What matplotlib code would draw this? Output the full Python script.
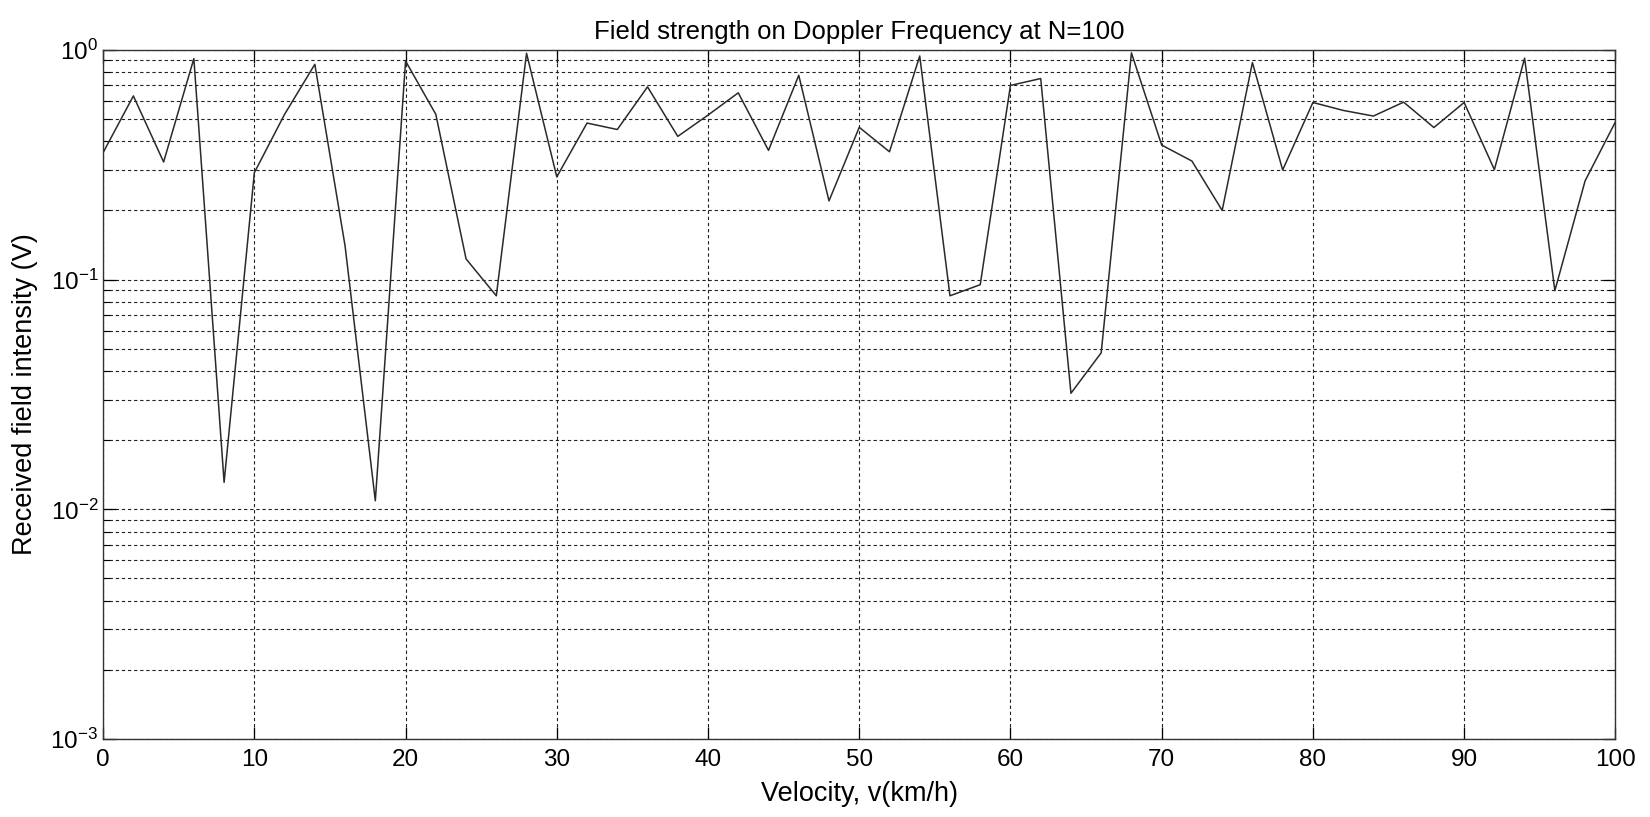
import numpy as np
import matplotlib
matplotlib.use('Agg')
import matplotlib.pyplot as plt
from matplotlib import font_manager
from matplotlib.ticker import LogLocator, NullFormatter

# velocity samples (km/h) and received field intensity (V)
velocity = [0, 2, 4, 6, 8, 10, 12, 14, 16, 18, 20, 22, 24, 26, 28, 30, 32, 34, 36, 38,
            40, 42, 44, 46, 48, 50, 52, 54, 56, 58, 60, 62, 64, 66, 68, 70, 72, 74, 76, 78,
            80, 82, 84, 86, 88, 90, 92, 94, 96, 98, 100]
intensity = [0.357, 0.63, 0.325, 0.916, 0.0131, 0.292, 0.524, 0.865, 0.14, 0.0109,
             0.894, 0.524, 0.123, 0.085, 0.966, 0.28, 0.48, 0.45, 0.69, 0.42,
             0.52, 0.65, 0.365, 0.775, 0.22, 0.46, 0.36, 0.94, 0.085, 0.095,
             0.70, 0.75, 0.032, 0.048, 0.97, 0.385, 0.328, 0.20, 0.88, 0.30,
             0.59, 0.545, 0.515, 0.592, 0.459, 0.59, 0.301, 0.92, 0.0895, 0.269,
             0.485]
xticks = [0, 10, 20, 30, 40, 50, 60, 70, 80, 90, 100]

plt.rcParams['font.family'] = ['Liberation Sans', 'DejaVu Sans']

# title in the original is set in a condensed face
names = {f.name for f in font_manager.fontManager.ttflist}
if 'Liberation Sans Narrow' in names:
    title_font, title_size = ['Liberation Sans Narrow', 'Liberation Sans'], 22
else:
    title_font, title_size = ['Liberation Sans', 'DejaVu Sans'], 18.5

fig = plt.figure(figsize=(16.5, 8.17), dpi=100)
ax = fig.add_axes([0.0625, 0.0954, 0.9165, 0.8436])

ax.semilogy(velocity, intensity, '-', color='#2a2a2a', lw=1.1)

ax.set_xlim(0, 100)
ax.set_ylim(1e-3, 1)
ax.set_xticks(xticks)
ax.yaxis.set_major_locator(LogLocator(base=10))
ax.yaxis.set_minor_locator(LogLocator(base=10, subs=np.arange(2, 10)))
ax.yaxis.set_minor_formatter(NullFormatter())

dash = (0, (3, 2.5))
ax.grid(True, which='major', axis='x', color='#222222', ls=dash, lw=0.8)
ax.grid(True, which='both', axis='y', color='#222222', ls=dash, lw=0.8)

ax.tick_params(which='both', direction='in', top=True, right=True, labelsize=17.5)
ax.tick_params(which='major', length=9, width=0.9)
ax.tick_params(which='minor', length=5, width=0.8)
ax.tick_params(axis='x', pad=7)

for s in ax.spines.values():
    s.set_color('#333333')
    s.set_linewidth(1.0)

ax.set_title('Field strength on Doppler Frequency at N=100', fontsize=title_size,
             family=title_font, pad=8)
ax.set_xlabel('Velocity, v(km/h)', fontsize=19.5, labelpad=7)
ax.set_ylabel('Received field intensity (V)', fontsize=19.5, labelpad=9)

fig.savefig('out.png', dpi=100)
